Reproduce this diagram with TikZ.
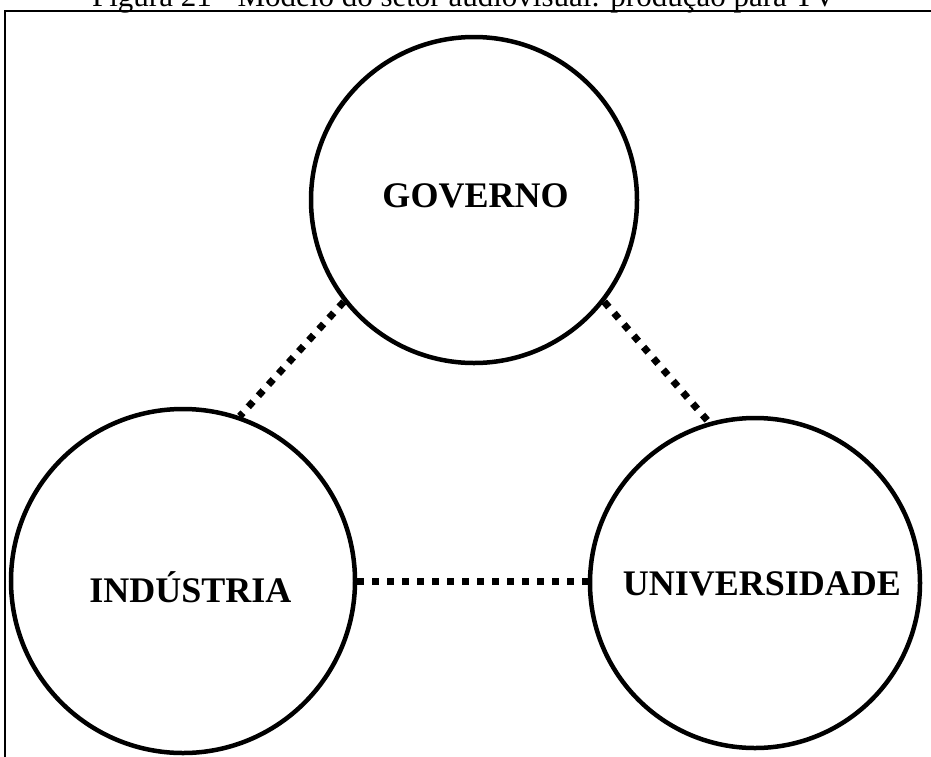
\documentclass[tikz,border=0pt]{standalone}
\usepackage{fontspec}
\setmainfont{Liberation Serif}
\begin{document}
\begin{tikzpicture}[x=1pt,y=-1pt,
  sector/.style={circle,draw,line width=4.5pt,inner sep=0pt},
  sectorname/.style={font=\bfseries\fontsize{36}{40}\selectfont},
  link/.style={line width=7pt,dash pattern=on 7pt off 8pt}]
\useasboundingbox (0,0) rectangle (931,756);
\begin{scope}
\clip (0,0) rectangle (931,756);
% caption, partly above the page edge
\node[anchor=base,inner sep=0pt,font=\fontsize{31}{34}\selectfont] (cap) at (464,6.5) {Figura 21 - Modelo do setor audiovisual: produção para TV};
% outer frame
\draw[line width=2.5pt] (5,800) -- (5,11) -- (960,11);
% three sectors
\node[sector,minimum size=326pt] (gov) at (474,200) {};
\node[sector,minimum size=344pt] (ind) at (183,581) {};
\node[sector,minimum size=330pt] (uni) at (755,583) {};
\node[sectorname] (govname) at (475.5,196) {GOVERNO};
\node[sectorname] (indname) at (190.5,587) {INDÚSTRIA};
\node[sectorname] (uniname) at (762,583.5) {UNIVERSIDADE};
% dotted links between the sectors
\draw[link] (gov.-142) -- (ind.71);
\draw[link] (gov.-38) -- (uni.106);
\draw[link] (ind.east) -- (ind.east -| uni.west);
\end{scope}
\end{tikzpicture}
\end{document}
